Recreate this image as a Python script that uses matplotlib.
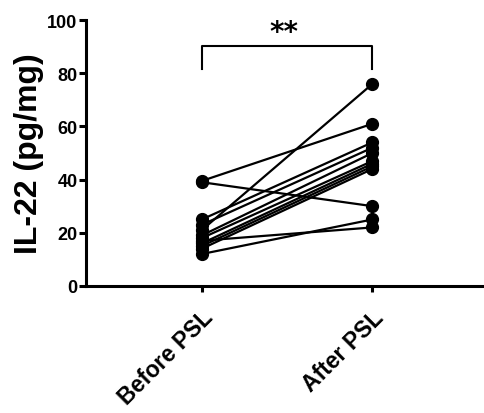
import matplotlib
matplotlib.use("Agg")
import matplotlib.pyplot as plt

# IL-22 levels per subject, before and after PSL
groups = ['Before PSL', 'After PSL']
before = [39.5, 39, 21, 25, 23, 19, 18, 16, 15, 14, 17, 12]
after = [61, 30, 76, 54, 52, 50, 47, 46, 45, 44, 22, 25]
yticks = [0, 20, 40, 60, 80, 100]

plt.rcParams['font.family'] = ['Liberation Sans', 'DejaVu Sans']

fig = plt.figure(figsize=(4.85, 4.14), dpi=100)
ax = fig.add_axes([0.177, 0.307, 0.823, 0.642])

xpos = [0, 1]
for b, a in zip(before, after):
    ax.plot(xpos, [b, a], color='black', lw=1.6, marker='o', markersize=8.5, zorder=3)

ax.set_xlim(-0.68, 1.66)
ax.set_ylim(0, 100)
ax.set_yticks(yticks)
ax.set_xticks(xpos)
ax.set_xticklabels(groups, rotation=45, ha='right', rotation_mode='anchor',
                   fontsize=16.5, fontweight='bold')
for lab in ax.get_yticklabels():
    lab.set_fontweight('bold')
    lab.set_fontsize(13)

ax.spines['top'].set_visible(False)
ax.spines['right'].set_visible(False)
ax.spines['left'].set_linewidth(2.2)
ax.spines['bottom'].set_linewidth(2.2)
ax.tick_params(axis='y', direction='out', length=5, width=2.2, pad=1)
ax.tick_params(axis='x', direction='out', length=4, width=2.2, pad=10)

ax.set_ylabel('IL-22 (pg/mg)', fontsize=23, fontweight='bold', labelpad=2)

# significance bracket
ax.plot([0, 0, 1, 1], [81.6, 90.2, 90.2, 81.6], color='black', lw=1.5, clip_on=False)
ax.text(0.48, 95.5, '**', ha='center', va='center', fontsize=20,
        fontweight='bold', family='DejaVu Sans')

fig.savefig('out.png', dpi=100)
